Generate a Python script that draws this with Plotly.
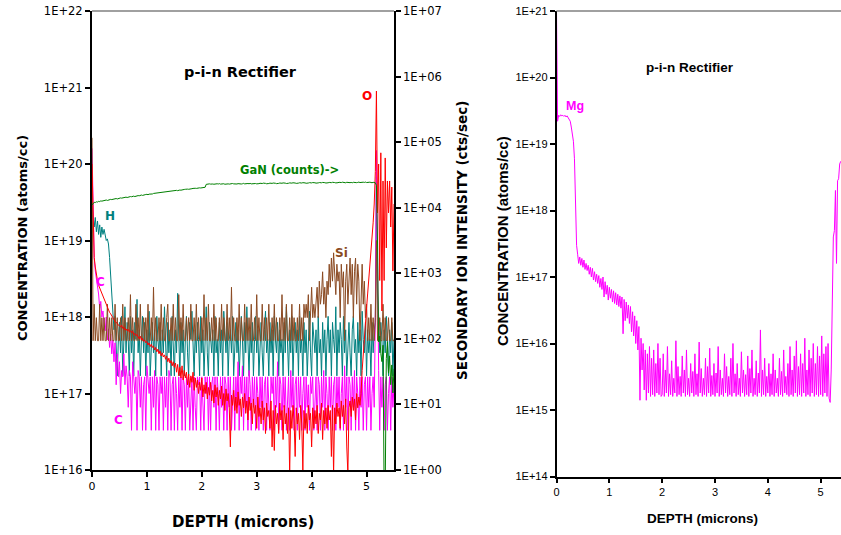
import plotly.graph_objects as go

W, H_PX = 841, 535
STEP = 0.02  # depth step of the SIMS profiles (microns)

# ---------------- left chart : p-i-n rectifier, H / C / O / Si (atoms/cc) + GaN (cts/sec)
H_CONC = [3.0e19, 2.2e19, 1.5e19, 2.0e19, 1.3e19, 1.8e19, 1.2e19, 1.6e19, 1.1e19, 1.5e19, 1.2e19, 1.4e19, 1.1e19, 1.0e19, 1.05e19, 9.0e18,
          6.0e18, 3.2e18, 1.8e18, 1.19e18, 6.8e17, 1.02e18, 3.4e17,
          1.7e17, 5.1e17, 8.5e17, 3.4e17, 1.02e18, 1.7e17, 6.8e17, 1.36e18, 3.4e17, 8.5e17,
          5.1e17, 1.7e17, 1.02e18, 3.4e17, 6.8e17, 1.7e17, 8.5e17, 5.1e17, 1.7e18, 3.4e17,
          6.8e17, 1.7e17, 5.1e17, 1.02e18, 3.4e17, 8.5e17, 1.7e17, 6.8e17, 3.4e17, 1.19e18,
          1.7e17, 5.1e17, 8.5e17, 3.4e17, 6.8e17, 1.7e17, 1.02e18, 5.1e17, 3.4e17, 8.5e17,
          1.7e17, 6.8e17, 3.4e17, 1.36e18, 5.1e17, 1.7e17, 8.5e17, 3.4e17, 6.8e17, 1.7e17,
          1.02e18, 5.1e17, 1.7e17, 6.8e17, 3.4e17, 2.04e18, 5.1e17, 1.7e17, 8.5e17, 3.4e17,
          6.8e17, 1.7e17, 5.1e17, 1.02e18, 3.4e17, 1.7e17, 8.5e17, 5.1e17, 1.19e18, 3.4e17,
          1.7e17, 6.8e17, 3.4e17, 8.5e17, 5.1e17, 1.7e17, 1.02e18, 3.4e17, 6.8e17, 1.7e17,
          5.1e17, 1.36e18, 3.4e17, 1.7e17, 8.5e17, 5.1e17, 3.4e17, 6.8e17, 1.7e17, 1.02e18,
          3.4e17, 5.1e17, 1.7e17, 8.5e17, 3.4e17, 6.8e17, 1.7e17, 1.19e18, 5.1e17, 3.4e17,
          8.5e17, 1.7e17, 5.1e17, 6.8e17, 3.4e17, 1.02e18, 1.7e17, 5.1e17, 8.5e17, 3.4e17,
          6.8e17, 1.7e17, 3.4e17, 1.02e18, 5.1e17, 1.7e17, 8.5e17, 3.4e17, 1.36e18, 5.1e17,
          1.7e17, 6.8e17, 3.4e17, 8.5e17, 1.7e17, 5.1e17, 1.02e18, 3.4e17, 6.8e17, 1.7e17,
          5.1e17, 8.5e17, 3.4e17, 1.7e17, 6.8e17, 1.19e18, 3.4e17, 5.1e17, 1.7e17, 8.5e17,
          3.4e17, 6.8e17, 1.7e17, 1.02e18, 5.1e17, 3.4e17, 8.5e17, 1.7e17, 6.8e17, 3.4e17,
          5.1e17, 1.7e17, 8.5e17, 3.4e17, 1.36e18, 5.1e17, 1.7e17, 6.8e17, 3.4e17, 1.02e18,
          1.7e17, 5.1e17, 8.5e17, 3.4e17, 6.8e17, 1.7e17, 1.02e18, 3.4e17, 5.1e17, 1.7e17,
          8.5e17, 3.4e17, 6.8e17, 1.7e17, 5.1e17, 1.19e18, 3.4e17, 1.7e17, 8.5e17, 5.1e17,
          3.4e17, 6.8e17, 1.7e17, 1.02e18, 3.4e17, 5.1e17, 1.7e17, 8.5e17, 3.4e17, 6.8e17,
          1.7e17, 5.1e17, 1.02e18, 3.4e17, 6.8e17, 1.7e17, 8.5e17, 5.1e17, 3.4e17, 1.36e18,
          1.7e17, 6.8e17, 3.4e17, 8.5e17, 5.1e17, 1.7e17, 1.02e18, 3.4e17, 6.8e17, 1.7e17,
          5.1e17, 8.5e17, 3.4e17, 1.7e17, 6.8e17, 1.02e18, 3.4e17, 5.1e17, 1.7e17, 8.5e17,
          3.4e17, 6.8e17, 1.7e17, 1.19e18, 5.1e17, 3.4e17, 8.5e17, 1.7e17, 6.8e17, 3.4e17,
          5.1e17, 1.7e17, 8.5e17, 3.4e17, 6.8e17,
          8.5e17, 6.8e19, 2.0e18, 1.02e18,
          3.4e17, 8.5e17, 5.1e17, 1.7e17, 6.8e17, 3.4e17, 1.02e18, 5.1e17, 1.7e17, 6.8e17, 3.4e17, 8.5e17, 1.7e17, 5.1e17]

C_CONC = [1.6e20, 2.0e19, 6.0e18, 4.0e18, 3.3e18, 2.5e18, 2.0e18, 1.3e18, 1.6e18, 1.0e18, 1.2e18, 8.0e17, 6.6e17, 1.0e18, 5.0e17, 7.0e17,
          4.0e17, 6.0e17, 3.3e17, 5.0e17, 2.6e17, 4.6e17, 1.3e17,
          3.3e17, 1.65e17, 2.6e17, 1.0e17, 2.0e17, 1.65e17, 3.3e17, 1.3e17, 2.3e17, 1.65e17,
          6.6e16, 2.0e17, 1.65e17, 3.3e16, 2.6e17, 1.65e17, 1.0e17, 1.65e17, 3.3e16, 2.0e17,
          1.65e17, 6.6e16, 1.65e17, 3.3e16, 1.3e17, 1.65e17, 3.3e16, 2.3e17, 1.65e17, 1.0e17,
          1.65e17, 3.3e16, 1.65e17, 6.6e16, 2.0e17, 3.3e16, 1.65e17, 1.3e17, 3.3e16, 1.65e17,
          1.0e17, 1.65e17, 3.3e16, 1.65e17, 6.6e16, 1.65e17, 3.3e16, 2.0e17, 1.65e17, 3.3e16,
          1.3e17, 1.65e17, 3.3e16, 1.65e17, 1.0e17, 3.3e16, 1.65e17, 6.6e16, 1.65e17, 3.3e16,
          1.65e17, 1.3e17, 3.3e16, 1.65e17, 6.6e16, 1.65e17, 3.3e16, 1.0e17, 1.65e17, 3.3e16,
          1.65e17, 6.6e16, 3.3e16, 1.65e17, 1.3e17, 1.65e17, 3.3e16, 1.65e17, 6.6e16, 3.3e16,
          1.65e17, 1.0e17, 1.65e17, 3.3e16, 1.65e17, 3.3e16, 1.3e17, 1.65e17, 6.6e16, 1.65e17,
          3.3e16, 1.65e17, 1.0e17, 3.3e16, 1.65e17, 6.6e16, 1.65e17, 3.3e16, 1.65e17, 1.3e17,
          3.3e16, 1.65e17, 6.6e16, 1.65e17, 3.3e16, 1.0e17, 1.65e17, 3.3e16, 1.65e17, 6.6e16,
          2.6e17, 3.3e16, 1.65e17, 1.0e17, 2.3e17, 3.3e16, 1.65e17, 6.6e16, 1.65e17, 3.3e16,
          2.0e17, 1.3e17, 3.3e16, 1.65e17, 6.6e16, 1.65e17, 3.3e16, 1.65e17, 1.0e17, 3.3e16,
          1.65e17, 6.6e16, 1.65e17, 3.3e16, 1.3e17, 1.65e17, 3.3e16, 1.65e17, 6.6e16, 3.3e16,
          1.65e17, 1.0e17, 1.65e17, 3.3e16, 1.65e17, 6.6e16, 2.6e17, 3.3e16, 1.65e17, 1.3e17,
          3.3e16, 1.65e17, 6.6e16, 1.65e17, 3.3e16, 1.0e17, 1.65e17, 3.3e16, 2.0e17, 6.6e16,
          1.65e17, 3.3e16, 1.3e17, 1.65e17, 3.3e16, 1.65e17, 6.6e16, 1.65e17, 3.3e16, 1.0e17,
          1.65e17, 3.3e16, 1.65e17, 6.6e16, 1.3e17, 3.3e16, 1.65e17, 1.0e17, 1.65e17, 3.3e16,
          6.6e16, 1.65e17, 3.3e16, 1.65e17, 1.3e17, 3.3e16, 1.65e17, 6.6e16, 2.0e17, 3.3e16,
          1.65e17, 1.0e17, 3.3e16, 1.65e17, 6.6e16, 1.65e17, 3.3e16, 1.3e17, 1.65e17, 3.3e16,
          1.65e17, 6.6e16, 1.65e17, 3.3e16, 1.0e17, 1.65e17, 3.3e16, 2.3e17, 6.6e16, 1.65e17,
          3.3e16, 1.65e17, 1.3e17, 3.3e16, 1.65e17, 6.6e16, 2.0e17, 3.3e16, 1.65e17, 1.0e17,
          3.3e16, 1.65e17, 6.6e16, 1.65e17, 3.3e16, 1.3e17, 1.65e17, 3.3e16, 1.65e17, 6.6e16,
          1.65e17, 3.3e16, 1.0e17, 1.65e17, 6.6e16,
          1.0e18, 1.5e20, 3.0e18, 2.0e17,
          3.3e16, 1.65e17, 6.6e16, 1.65e17, 3.3e16, 1.3e17, 1.65e17, 3.3e16, 1.0e17, 1.65e17, 3.3e16, 1.65e17, 6.6e16, 1.3e17]

SI_CONC = [2.2e20,
           4.9e17, 1.47e18, 4.9e17, 9.8e17, 4.9e17, 4.9e17, 1.47e18, 4.9e17, 9.8e17, 4.9e17,
           9.8e17, 4.9e17, 4.9e17, 1.47e18, 4.9e17, 9.8e17, 4.9e17, 9.8e17, 4.9e17, 4.9e17,
           1.47e18, 4.9e17, 9.8e17, 4.9e17, 4.9e17, 9.8e17, 4.9e17, 1.47e18, 4.9e17, 9.8e17,
           4.9e17, 4.9e17, 9.8e17, 4.9e17, 1.96e18, 4.9e17, 9.8e17, 4.9e17, 4.9e17, 1.47e18,
           4.9e17, 9.8e17, 4.9e17, 1.47e18, 4.9e17, 4.9e17, 9.8e17, 4.9e17, 9.8e17, 4.9e17,
           1.47e18, 4.9e17, 4.9e17, 9.8e17, 4.9e17, 2.45e18, 4.9e17, 9.8e17, 4.9e17, 4.9e17,
           9.8e17, 4.9e17, 1.47e18, 4.9e17, 9.8e17, 4.9e17, 4.9e17, 9.8e17, 1.47e18, 4.9e17,
           4.9e17, 9.8e17, 4.9e17, 1.47e18, 4.9e17, 9.8e17, 4.9e17, 4.9e17, 1.96e18, 4.9e17,
           9.8e17, 4.9e17, 1.47e18, 4.9e17, 4.9e17, 9.8e17, 4.9e17, 9.8e17, 4.9e17, 1.47e18,
           4.9e17, 4.9e17, 9.8e17, 4.9e17, 1.47e18, 4.9e17, 9.8e17, 4.9e17, 4.9e17, 9.8e17,
           4.9e17, 1.96e18, 4.9e17, 9.8e17, 4.9e17, 1.47e18, 4.9e17, 4.9e17, 9.8e17, 4.9e17,
           1.47e18, 4.9e17, 9.8e17, 4.9e17, 4.9e17, 9.8e17, 4.9e17, 1.47e18, 4.9e17, 9.8e17,
           4.9e17, 4.9e17, 1.47e18, 4.9e17, 9.8e17, 4.9e17, 2.45e18, 4.9e17, 9.8e17, 4.9e17,
           4.9e17, 9.8e17, 4.9e17, 1.47e18, 4.9e17, 9.8e17, 4.9e17, 4.9e17, 1.47e18, 4.9e17,
           9.8e17, 4.9e17, 9.8e17, 4.9e17, 1.47e18, 4.9e17, 4.9e17, 9.8e17, 4.9e17, 1.96e18,
           4.9e17, 9.8e17, 4.9e17, 4.9e17, 1.47e18, 4.9e17, 9.8e17, 4.9e17, 9.8e17, 4.9e17,
           1.47e18, 4.9e17, 4.9e17, 9.8e17, 4.9e17, 1.47e18, 4.9e17, 9.8e17, 4.9e17, 4.9e17,
           9.8e17, 4.9e17, 1.96e18, 4.9e17, 9.8e17, 4.9e17, 1.47e18, 4.9e17, 4.9e17, 9.8e17,
           4.9e17, 1.47e18, 4.9e17, 9.8e17, 4.9e17, 4.9e17, 9.8e17, 4.9e17, 1.47e18, 4.9e17,
           9.8e17, 4.9e17, 1.47e18, 9.8e17,
           1.47e18, 9.8e17, 1.96e18, 4.9e17, 1.47e18, 2.45e18, 9.8e17, 1.47e18, 9.8e17, 1.96e18,
           2.45e18, 9.8e17, 2.94e18, 1.47e18, 1.96e18, 3.9e18, 1.47e18, 2.45e18, 9.8e17, 2.94e18,
           1.96e18, 4.9e18, 2.45e18, 5.9e18, 2.94e18, 6.9e18, 3.9e18, 1.96e18, 4.9e18, 2.94e18,
           3.9e18, 9.8e17, 4.9e18, 2.45e18, 3.9e18, 4.9e17, 2.94e18, 4.9e18, 1.47e18, 3.9e18,
           5.9e18, 1.96e18, 4.9e18, 9.8e17, 3.9e18, 5.9e18, 1.47e18, 4.9e18, 2.94e18, 4.9e17,
           2.45e18, 4.9e18, 1.47e18, 2.94e18, 9.8e17,
           1.47e18, 4.9e17, 9.8e17, 4.9e17, 1.47e18, 4.9e17, 9.8e17, 4.9e17,
           9.8e17, 1.0e19, 4.9e17,
           4.9e17, 9.8e17, 4.9e17, 4.9e17, 1.47e18, 4.9e17, 9.8e17, 4.9e17, 4.9e17, 9.8e17, 4.9e17, 4.9e17, 9.8e17, 4.9e17, 4.9e17]

O_CONC = [1.0e20, 1.5e19, 6.0e18, 4.5e18, 3.5e18, 3.0e18, 2.6e18, 2.4e18, 2.1e18, 2.0e18, 1.8e18, 1.7e18, 1.55e18,
          1.45e18, 1.35e18, 1.25e18, 1.15e18, 1.1e18, 1.05e18, 9.8e17, 9.2e17, 8.8e17, 8.5e17, 8.2e17, 7.9e17, 7.6e17,
          7.4e17, 7.8e17, 7.1e17, 7.3e17, 6.8e17, 7.0e17, 6.6e17, 6.9e17, 6.4e17, 6.6e17,
          6.2e17, 6.5e17, 5.9e17, 6.1e17, 5.7e17, 5.9e17, 5.5e17, 5.2e17, 5.6e17, 5.0e17,
          5.3e17, 4.8e17, 5.0e17, 4.6e17, 4.8e17, 4.3e17, 4.6e17, 4.1e17, 4.4e17, 4.0e17,
          4.2e17, 3.7e17, 4.0e17, 3.5e17, 3.8e17, 3.3e17, 3.6e17, 3.1e17, 3.4e17, 3.0e17,
          3.2e17, 2.8e17, 3.1e17, 2.6e17, 2.9e17, 2.5e17, 2.7e17, 2.3e17, 2.6e17, 2.2e17,
          2.5e17, 1.9e17, 2.4e17, 1.7e17, 2.2e17, 1.6e17, 2.3e17, 1.5e17, 2.0e17, 1.6e17,
          1.9e17, 1.3e17, 1.8e17, 1.2e17, 1.7e17, 1.4e17, 1.9e17, 1.1e17, 1.6e17, 1.2e17,
          1.5e17, 1.0e17, 1.4e17, 1.1e17, 1.6e17, 9.0e16, 1.3e17, 1.0e17, 1.4e17, 8.5e16,
          1.2e17, 9.5e16, 1.4e17, 8.0e16, 1.1e17, 7.5e16, 1.3e17, 9.0e16, 1.2e17, 7.0e16,
          1.1e17, 8.5e16, 1.25e17, 7.0e16, 1.0e17, 6.0e16, 1.15e17, 8.0e16, 1.0e17, 6.5e16,
          2.0e16, 9.5e16, 7.0e16, 1.1e17, 6.0e16, 9.0e16, 5.5e16, 1.05e17, 7.0e16, 8.5e16,
          5.0e16, 9.0e16, 6.5e16, 1.0e17, 5.5e16, 8.0e16, 4.5e16, 9.0e16, 6.0e16, 7.5e16,
          4.0e16, 8.5e16, 5.5e16, 7.0e16, 3.5e16, 9.0e16, 5.0e16, 6.5e16, 4.0e16, 8.0e16,
          4.5e16, 6.5e16, 3.0e16, 7.5e16, 5.0e16, 6.0e16, 3.5e16, 8.0e16, 2.0e16, 6.0e16,
          1.8e16, 7.0e16, 4.0e16, 5.5e16, 3.0e16, 7.5e16, 4.5e16, 6.0e16, 2.5e16, 7.0e16,
          4.0e16, 5.5e16, 3.0e16, 6.5e16, 9.0e15, 6.0e16, 3.5e16, 7.0e16, 4.5e16, 1.5e16,
          6.5e16, 4.0e16, 5.5e16, 2.5e16, 7.0e16, 4.0e16, 1.0e16, 6.0e16, 3.5e16, 5.5e16,
          3.0e16, 7.0e16, 4.5e16, 5.5e16, 2.0e16, 6.5e16, 3.5e16, 6.0e16, 4.0e16, 7.0e16,
          3.0e16, 5.5e16, 4.5e16, 7.5e16, 2.5e16, 6.0e16, 4.0e16, 6.5e16, 3.5e16, 7.0e16,
          4.5e16, 6.0e16, 1.5e16, 7.0e16, 9.0e15, 6.5e16, 4.0e16, 7.5e16, 5.0e16, 6.5e16,
          3.5e16, 8.0e16, 5.0e16, 7.0e16, 4.0e16, 8.5e16, 2.0e16, 9.0e15, 6.5e16, 8.0e16,
          5.0e16, 9.0e16, 6.0e16, 8.5e16, 4.5e16, 1.0e17, 6.5e16, 9.0e16, 7.0e16, 1.0e17,
          2.0e17, 3.0e17, 5.0e17, 8.0e17, 1.3e18, 2.0e18, 3.0e18, 4.5e18, 7.0e18, 1.1e19, 1.7e19, 3.0e19, 8.0e19,
          9.0e20, 2.3e19, 1.0e20, 3.0e18, 1.4e20, 1.2e18, 6.0e19, 3.0e18, 1.2e20, 8.0e18, 6.0e19, 2.3e19, 6.0e19,
          1.5e19, 5.0e19, 4.0e18, 3.0e19]

GAN_CPS = [1.10e4, 1.18e4, 1.21e4, 1.20e4, 1.23e4, 1.22e4, 1.25e4, 1.24e4, 1.27e4, 1.26e4,
           1.28e4, 1.27e4, 1.30e4, 1.31e4, 1.29e4, 1.32e4, 1.31e4, 1.34e4, 1.33e4, 1.35e4,
           1.34e4, 1.37e4, 1.38e4, 1.36e4, 1.39e4, 1.38e4, 1.41e4, 1.40e4, 1.42e4, 1.41e4,
           1.44e4, 1.45e4, 1.43e4, 1.46e4, 1.45e4, 1.48e4, 1.47e4, 1.49e4, 1.50e4, 1.48e4,
           1.51e4, 1.50e4, 1.53e4, 1.52e4, 1.55e4, 1.56e4, 1.54e4, 1.57e4, 1.56e4, 1.59e4,
           1.60e4, 1.58e4, 1.61e4, 1.60e4, 1.63e4, 1.62e4, 1.65e4, 1.66e4, 1.64e4, 1.67e4,
           1.68e4, 1.67e4, 1.70e4, 1.69e4, 1.72e4, 1.71e4, 1.73e4, 1.75e4, 1.73e4, 1.76e4,
           1.77e4, 1.76e4, 1.79e4, 1.78e4, 1.81e4, 1.80e4, 1.82e4, 1.84e4, 1.82e4, 1.85e4,
           1.86e4, 1.85e4, 1.88e4, 1.87e4, 1.90e4, 1.91e4, 1.89e4, 1.92e4, 1.91e4, 1.94e4,
           1.93e4, 1.95e4, 1.97e4, 1.95e4, 1.98e4, 1.97e4, 2.00e4, 1.99e4, 2.01e4, 2.00e4,
           2.02e4, 2.03e4, 2.02e4, 2.05e4, 2.27e4, 2.30e4, 2.28e4, 2.31e4, 2.29e4, 2.32e4,
           2.30e4, 2.28e4, 2.31e4, 2.29e4, 2.32e4, 2.30e4, 2.33e4, 2.29e4, 2.31e4, 2.30e4,
           2.32e4, 2.28e4, 2.30e4, 2.33e4, 2.31e4, 2.29e4, 2.32e4, 2.30e4, 2.34e4, 2.31e4,
           2.29e4, 2.32e4, 2.30e4, 2.33e4, 2.31e4, 2.34e4, 2.30e4, 2.32e4, 2.35e4, 2.31e4,
           2.33e4, 2.30e4, 2.34e4, 2.32e4, 2.35e4, 2.31e4, 2.33e4, 2.36e4, 2.32e4, 2.34e4,
           2.31e4, 2.35e4, 2.33e4, 2.36e4, 2.32e4, 2.34e4, 2.37e4, 2.33e4, 2.35e4, 2.32e4,
           2.36e4, 2.34e4, 2.37e4, 2.33e4, 2.35e4, 2.38e4, 2.34e4, 2.36e4, 2.33e4, 2.37e4,
           2.35e4, 2.38e4, 2.34e4, 2.36e4, 2.39e4, 2.35e4, 2.37e4, 2.34e4, 2.38e4, 2.36e4,
           2.39e4, 2.35e4, 2.37e4, 2.40e4, 2.36e4, 2.38e4, 2.35e4, 2.39e4, 2.37e4, 2.40e4,
           2.36e4, 2.38e4, 2.41e4, 2.37e4, 2.39e4, 2.36e4, 2.40e4, 2.38e4, 2.41e4, 2.37e4,
           2.39e4, 2.42e4, 2.38e4, 2.40e4, 2.37e4, 2.41e4, 2.39e4, 2.42e4, 2.38e4, 2.40e4,
           2.43e4, 2.39e4, 2.41e4, 2.38e4, 2.42e4, 2.40e4, 2.43e4, 2.39e4, 2.41e4, 2.44e4,
           2.40e4, 2.42e4, 2.39e4, 2.43e4, 2.41e4, 2.44e4, 2.40e4, 2.42e4, 2.45e4, 2.41e4,
           2.43e4, 2.40e4, 2.44e4, 2.42e4, 2.45e4, 2.41e4, 2.43e4, 2.40e4, 2.44e4, 2.42e4,
           2.45e4, 2.41e4, 2.43e4, 2.46e4, 2.42e4, 2.44e4, 2.41e4, 2.45e4, 2.43e4, 2.46e4,
           2.42e4, 2.44e4, 2.41e4, 2.45e4, 2.43e4, 2.40e4, 2.44e4, 2.42e4,
           2.40e4, 2.2e4, 3.0e3, 90, 110, 60, 45, 80, 0.5, 0.5,
           50, 90, 30, 55, 20, 40, 15, 35]

# ---------------- right chart : Mg profile (atoms/cc)
MG_CONC = [1.0e21, 2.2e19, 2.7e19, 2.6e19, 2.75e19, 2.65e19, 2.7e19, 2.6e19, 2.7e19, 2.55e19, 2.65e19, 2.5e19, 2.4e19,
           2.2e19, 1.8e19, 1.45e19, 1.1e19, 6.0e18, 1.4e18, 3.0e17,
           2.2e17, 1.6e17, 2.0e17, 1.5e17, 1.9e17, 1.4e17, 1.8e17, 1.3e17, 1.6e17, 1.25e17,
           1.5e17, 1.1e17, 1.4e17, 1.0e17, 1.35e17, 9.0e16, 1.2e17, 8.5e16, 1.1e17, 8.0e16,
           1.05e17, 7.0e16, 9.5e16, 6.5e16, 1.0e17, 5.0e16, 8.5e16, 5.5e16, 7.5e16, 4.5e16,
           7.0e16, 4.8e16, 6.5e16, 4.2e16, 6.2e16, 4.0e16, 5.8e16, 3.8e16, 5.5e16, 3.6e16,
           5.2e16, 3.4e16, 5.0e16, 1.4e16, 4.6e16, 2.2e16, 4.2e16, 2.4e16, 3.8e16, 2.0e16,
           3.6e16, 1.5e16, 3.0e16, 1.3e16, 2.6e16, 1.0e16, 2.2e16, 8.0e15, 1.8e16, 1.4e15,
           1.2e16, 4.0e15, 1.0e16, 2.0e15, 8.0e15, 1.4e15, 7.0e15, 1.8e15, 9.0e15, 1.6e15,
           6.0e15, 1.7e15, 8.0e15, 1.6e15, 5.0e15, 1.8e15, 1.0e16, 1.7e15, 6.0e15, 1.6e15,
           1.7e15, 7.0e15, 1.6e15, 4.0e15, 1.8e15, 9.0e15, 1.6e15, 3.5e15, 1.7e15, 5.5e15,
           1.6e15, 3.0e15, 1.8e15, 1.1e16, 1.6e15, 4.5e15, 1.7e15, 3.2e15, 1.6e15, 6.5e15,
           1.8e15, 4.0e15, 1.6e15, 8.0e15, 1.7e15, 3.0e15, 1.6e15, 5.0e15, 1.8e15, 3.8e15,
           1.6e15, 7.0e15, 1.7e15, 3.5e15, 1.6e15, 1.05e16, 1.8e15, 4.2e15, 1.6e15, 3.0e15,
           1.7e15, 6.0e15, 1.6e15, 4.5e15, 1.8e15, 8.5e15, 1.6e15, 3.3e15, 1.7e15, 5.0e15,
           1.6e15, 3.6e15, 1.8e15, 9.0e15, 1.6e15, 4.0e15, 1.7e15, 3.0e15, 1.6e15, 7.0e15,
           1.8e15, 4.5e15, 1.6e15, 3.2e15, 1.7e15, 6.0e15, 1.6e15, 1.0e16, 1.8e15, 3.5e15,
           1.6e15, 5.0e15, 1.7e15, 3.0e15, 1.6e15, 7.5e15, 1.8e15, 4.0e15, 1.6e15, 3.4e15,
           1.7e15, 6.5e15, 1.6e15, 4.2e15, 1.8e15, 8.0e15, 1.6e15, 3.0e15, 1.7e15, 5.5e15,
           1.6e15, 3.6e15, 1.8e15, 1.6e16, 1.6e15, 4.0e15, 1.7e15, 6.0e15, 1.6e15, 3.2e15,
           1.8e15, 5.0e15, 1.6e15, 3.5e15, 1.7e15, 7.0e15, 1.6e15, 4.0e15, 1.8e15, 3.0e15,
           1.6e15, 6.0e15, 1.7e15, 3.8e15, 1.6e15, 8.0e15, 1.8e15, 3.2e15, 1.7e15, 5.0e15,
           1.6e15, 9.0e15, 1.7e15, 4.0e15, 1.6e15, 6.5e15, 1.8e15, 1.1e16, 1.6e15, 4.5e15,
           1.7e15, 7.0e15, 1.6e15, 5.0e15, 1.8e15, 1.2e16, 1.6e15, 4.0e15, 1.7e15, 8.0e15,
           1.6e15, 6.0e15, 1.8e15, 1.0e16, 1.6e15, 5.0e15, 1.7e15, 9.0e15, 1.6e15, 6.5e15,
           1.7e15, 1.3e16, 1.6e15, 7.0e15, 1.8e15, 9.0e15, 1.6e15, 1.0e16,
           1.5e15, 1.3e15, 4.0e15, 3.0e16, 4.0e17, 5.0e17, 2.0e18, 1.6e17, 2.8e18, 3.0e18, 5.0e18, 5.5e18]

LEFT_Y_TICKS = ["1E+16", "1E+17", "1E+18", "1E+19", "1E+20", "1E+21", "1E+22"]
RIGHT_Y2_TICKS = ["1E+00", "1E+01", "1E+02", "1E+03", "1E+04", "1E+05", "1E+06", "1E+07"]
MG_Y_TICKS = ["1E+14", "1E+15", "1E+16", "1E+17", "1E+18", "1E+19", "1E+20", "1E+21"]
X_TICKS = [0, 1, 2, 3, 4, 5]


def depth(vals):
    return [round(i * STEP, 2) for i in range(len(vals))]


fig = go.Figure()
series = [(H_CONC, "#008080"), (C_CONC, "#FF00FF"), (SI_CONC, "#8B4A22"), (O_CONC, "#FF0000")]
for vals, col in series:
    fig.add_trace(go.Scatter(x=depth(vals), y=vals, mode="lines", line=dict(color=col, width=1),
                             xaxis="x", yaxis="y", hoverinfo="skip"))
fig.add_trace(go.Scatter(x=depth(GAN_CPS), y=GAN_CPS, mode="lines", line=dict(color="#008000", width=1),
                         xaxis="x", yaxis="y2", hoverinfo="skip"))
fig.add_trace(go.Scatter(x=depth(MG_CONC), y=MG_CONC, mode="lines", line=dict(color="#FF00FF", width=1),
                         xaxis="x2", yaxis="y3", hoverinfo="skip"))

# plot-area geometry (pixels)
L_X0, L_X1, L_Y0, L_Y1 = 92, 394, 11, 470
R_X0, R_Y0, R_Y1 = 556.5, 11, 476.5


def px(x):
    return x / W


def py(y):
    return 1 - y / H_PX


DJ = "DejaVu Sans"
AR = "Liberation Sans, Arial"
common = dict(showgrid=False, zeroline=False, showline=True, linecolor="black", ticks="outside",
              tickcolor="black", ticklen=5, tickwidth=1.5, automargin=False)

fig.update_layout(
    width=W, height=H_PX, margin=dict(l=0, r=0, t=0, b=0, autoexpand=False),
    paper_bgcolor="white", plot_bgcolor="white", showlegend=False,
    xaxis=dict(domain=[px(L_X0), px(L_X1)], range=[0, 5.5], anchor="y", tickvals=X_TICKS,
               linewidth=2, tickfont=dict(family=DJ, size=11, color="black"), **common),
    yaxis=dict(domain=[py(L_Y1), py(L_Y0)], type="log", range=[16, 22], anchor="x",
               tickvals=[10.0 ** k for k in range(16, 23)], ticktext=LEFT_Y_TICKS,
               linewidth=2, tickfont=dict(family=DJ, size=11.5, color="black"), **common),
    yaxis2=dict(overlaying="y", side="right", anchor="x", type="log", range=[0, 7],
                tickvals=[10.0 ** k for k in range(0, 8)], ticktext=RIGHT_Y2_TICKS,
                linewidth=1.5, tickfont=dict(family=DJ, size=11.5, color="black"), **common),
    xaxis2=dict(domain=[px(R_X0), 1.0], range=[0, 5.385], anchor="y3", tickvals=X_TICKS,
                linewidth=1.5, tickfont=dict(family=AR, size=11, color="black"), **common),
    yaxis3=dict(domain=[py(R_Y1), py(R_Y0)], type="log", range=[14, 21], anchor="x2",
                tickvals=[10.0 ** k for k in range(14, 22)], ticktext=MG_Y_TICKS,
                linewidth=1.5, tickfont=dict(family=AR, size=11, color="black"), **common),
)

fig.add_shape(type="line", xref="paper", yref="paper", x0=px(L_X0), x1=px(L_X1), y0=py(L_Y0), y1=py(L_Y0),
              line=dict(color="#808080", width=1.5))
fig.add_shape(type="line", xref="paper", yref="paper", x0=px(R_X0), x1=1.0, y0=py(R_Y0), y1=py(R_Y0),
              line=dict(color="#808080", width=1.5))


def label(text, x, y, size, color="black", family=DJ, angle=0):
    fig.add_annotation(text=f"<b>{text}</b>", x=px(x), y=py(y), xref="paper", yref="paper",
                       showarrow=False, xanchor="center", yanchor="middle", textangle=angle,
                       font=dict(family=family, size=size, color=color))


label("p-i-n Rectifier", 241, 72, 14.5)
label("GaN (counts)->", 289, 170, 11.5, "#008000")
label("H", 110, 216, 12, "#008080")
label("C", 100, 282, 12, "#FF00FF")
label("C", 118, 420, 12, "#FF00FF")
label("Si", 341, 253, 12, "#8B4A22")
label("O", 367, 96, 12, "#FF0000")
label("CONCENTRATION (atoms/cc)", 22, 238, 13, angle=-90)
label("SECONDARY ION INTENSITY (cts/sec)", 462, 241, 13.5, angle=-90)
label("DEPTH (microns)", 243, 522, 15)

label("p-i-n Rectifier", 690, 68, 13.5, family=AR)
label("Mg", 575, 106, 12.5, "#FF00FF", family=AR)
label("CONCENTRATION (atoms/cc)", 502, 241, 15, family=AR, angle=-90)
label("DEPTH (microns)", 702, 518, 13.5, family=AR)

fig.write_html("out.html", config={"displayModeBar": False},
               post_script="document.body.style.margin='0';document.body.style.overflow='hidden';")
